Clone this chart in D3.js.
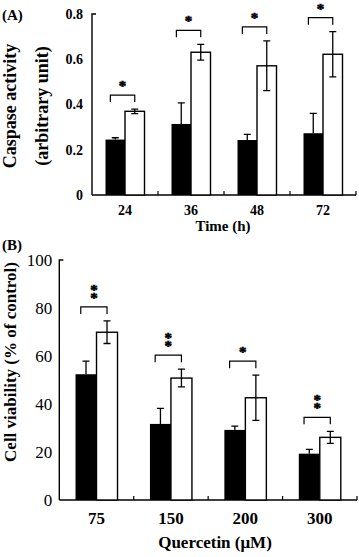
<!DOCTYPE html>
<html>
<head>
<meta charset="utf-8">
<script src="https://cdn.jsdelivr.net/npm/d3@7"></script>
<style>
  body { margin: 0; background: #fff; }
  text { font-family: 'Liberation Serif', 'Times New Roman', serif; fill: #000; }
</style>
</head>
<body>
<svg id="chart" width="359" height="557"></svg>
<script>
// panel A - caspase activity vs time
var timeLabels = ['24', '36', '48', '72']
var caspCtrl = [0.245, 0.314, 0.243, 0.273]
var caspCtrlErr = [0.008, 0.093, 0.025, 0.088]
var caspTreat = [0.37, 0.631, 0.571, 0.622]
var caspTreatErr = [0.01, 0.035, 0.11, 0.10]
var caspSig = ['*', '*', '*', '*']
var caspTicks = [0, 0.2, 0.4, 0.6, 0.8]

// panel B - cell viability vs quercetin dose
var doseLabels = ['75', '150', '200', '300']
var viabCtrl = [52.4, 31.7, 29.2, 19.3]
var viabCtrlErr = [5.5, 6.5, 1.6, 1.8]
var viabTreat = [69.9, 50.8, 42.6, 26.1]
var viabTreatErr = [4.7, 3.7, 9.4, 2.5]
var viabSig = ['**', '**', '*', '**']
var viabTicks = [0, 20, 40, 60, 80, 100]

var svg = d3.select('#chart')

function drawPanel(opt) {
  var g = svg.append('g')

  var x = d3.scaleBand().domain(opt.cats).range([opt.x0, opt.x1]).padding(0)
  var y = d3.scaleLinear().domain(opt.domain).range([opt.y0, opt.y1])
  var bw = opt.barW

  var rows = opt.cats.map(function (c, i) {
    return { cat: c, ctrl: opt.ctrl[i], ctrlErr: opt.ctrlErr[i],
      treat: opt.treat[i], treatErr: opt.treatErr[i], sig: opt.sig[i] }
  })

  // y axis
  var yAxis = d3.axisLeft(y).tickValues(opt.ticks).tickSize(0).tickPadding(opt.tickPad)
    .tickFormat(opt.fmt)
  var ya = g.append('g').attr('transform', 'translate(' + opt.x0 + ',0)').call(yAxis)
  ya.select('.domain').remove()
  ya.selectAll('text')
    .style('font-size', opt.yTickSize + 'px')
    .style('font-weight', opt.yTickBold ? 'bold' : 'normal')
    .attr('fill', '#000')
  g.append('path')
    .attr('d', 'M' + (opt.x0 + 4) + ',' + y(opt.domain[1]) + 'H' + opt.x0 + 'V' + y(0))
    .attr('fill', 'none').attr('stroke', '#000').attr('stroke-width', 1.4)

  // x axis
  var xAxis = d3.axisBottom(x).tickSize(0).tickPadding(opt.xTickPad)
  var xa = g.append('g').attr('transform', 'translate(0,' + y(0) + ')').call(xAxis)
  xa.select('.domain').remove()
  xa.selectAll('text')
    .style('font-size', opt.xTickSize + 'px')
    .style('font-weight', 'bold')
    .attr('fill', '#000')
  g.append('line')
    .attr('x1', opt.x0).attr('x2', opt.x1)
    .attr('y1', y(0)).attr('y2', y(0))
    .attr('stroke', '#000').attr('stroke-width', 1.4)
  // little upward ticks between groups
  g.selectAll('.sep').data(opt.cats).enter().append('line')
    .attr('x1', function (d) { return x(d) + x.bandwidth() })
    .attr('x2', function (d) { return x(d) + x.bandwidth() })
    .attr('y1', y(0)).attr('y2', y(0) - 4)
    .attr('stroke', '#000').attr('stroke-width', 1.2)

  // error bars (drawn first so bars cover the lower half)
  g.selectAll('.errC').data(rows).enter().append('path')
    .attr('d', function (d) {
      var cx = x(d.cat) + x.bandwidth() / 2 - bw / 2
      var t = y(d.ctrl + d.ctrlErr)
      return 'M' + cx + ',' + y(d.ctrl) + 'V' + t + 'M' + (cx - 3.5) + ',' + t + 'H' + (cx + 3.5)
    })
    .attr('stroke', '#000').attr('stroke-width', 1.3).attr('fill', 'none')

  g.selectAll('.barC').data(rows).enter().append('rect')
    .attr('x', function (d) { return x(d.cat) + x.bandwidth() / 2 - bw })
    .attr('width', bw)
    .attr('y', function (d) { return y(d.ctrl) })
    .attr('height', function (d) { return y(0) - y(d.ctrl) })
    .attr('fill', '#000')

  g.selectAll('.barT').data(rows).enter().append('rect')
    .attr('x', function (d) { return x(d.cat) + x.bandwidth() / 2 })
    .attr('width', bw)
    .attr('y', function (d) { return y(d.treat) })
    .attr('height', function (d) { return y(0) - y(d.treat) })
    .attr('fill', '#fff').attr('stroke', '#000').attr('stroke-width', 1.4)

  g.selectAll('.errT').data(rows).enter().append('path')
    .attr('d', function (d) {
      var cx = x(d.cat) + x.bandwidth() / 2 + bw / 2
      var t = y(d.treat + d.treatErr)
      var b = y(d.treat - d.treatErr)
      return 'M' + cx + ',' + b + 'V' + t +
        'M' + (cx - 3.5) + ',' + t + 'H' + (cx + 3.5) +
        'M' + (cx - 3.5) + ',' + b + 'H' + (cx + 3.5)
    })
    .attr('stroke', '#000').attr('stroke-width', 1.3).attr('fill', 'none')

  // significance brackets, stacked stars go in one text element
  rows.forEach(function (d) {
    var c = x(d.cat) + x.bandwidth() / 2
    var l = c - bw + bw * 0.25
    var r = c + bw / 2
    var by = y(d.treat + d.treatErr) - 14
    g.append('path')
      .attr('d', 'M' + l + ',' + (by + 7) + 'V' + by + 'H' + r + 'V' + (by + 7))
      .attr('fill', 'none').attr('stroke', '#000').attr('stroke-width', 1.2)
    var mid = (l + r) / 2
    var st = g.append('text')
      .attr('text-anchor', 'middle')
      .attr('fill', '#000')
      .attr('stroke', '#000')
      .attr('stroke-width', 0.6)
      .style('font-size', '15px')
      .style('font-weight', 'bold')
    d.sig.split('').forEach(function (s, k) {
      st.append('tspan')
        .attr('x', mid)
        .attr('y', by - 4 - k * 8)
        .text(s)
    })
  })
}

drawPanel({
  cats: timeLabels, ctrl: caspCtrl, ctrlErr: caspCtrlErr, treat: caspTreat, treatErr: caspTreatErr,
  sig: caspSig, ticks: caspTicks, domain: [0, 0.8],
  fmt: function (d) { return d === 0 ? '0' : d3.format('.1f')(d) },
  x0: 92, x1: 356, y0: 195, y1: 14, barW: 19.5,
  tickPad: 9, yTickSize: 14, yTickBold: true, xTickSize: 14, xTickPad: 10
})

drawPanel({
  cats: doseLabels, ctrl: viabCtrl, ctrlErr: viabCtrlErr, treat: viabTreat, treatErr: viabTreatErr,
  sig: viabSig, ticks: viabTicks, domain: [0, 100],
  fmt: d3.format('d'),
  x0: 59.3, x1: 357, y0: 500, y1: 260, barW: 21,
  tickPad: 7, yTickSize: 17, yTickBold: false, xTickSize: 17, xTickPad: 12
})

// labels
function label(t, x, y, size, rot) {
  var el = svg.append('text')
    .attr('text-anchor', rot ? 'middle' : 'start')
    .attr('fill', '#000')
    .style('font-size', size + 'px')
    .style('font-weight', 'bold')
    .text(t)
  if (rot) el.attr('transform', 'translate(' + x + ',' + y + ') rotate(-90)')
  else el.attr('x', x).attr('y', y)
  return el
}

label('(A)', 2, 20, 15)
label('(B)', 2, 250, 15)
label('Caspase activity', 16, 106, 18, true)
label('(arbitrary unit)', 47.5, 106, 18, true)
label('Cell viability (% of control)', 16, 362, 17, true)
label('Time (h)', 223, 231, 15).attr('text-anchor', 'middle')
label('Quercetin (\u03bcM)', 215, 548, 17).attr('text-anchor', 'middle')
</script>
</body>
</html>
